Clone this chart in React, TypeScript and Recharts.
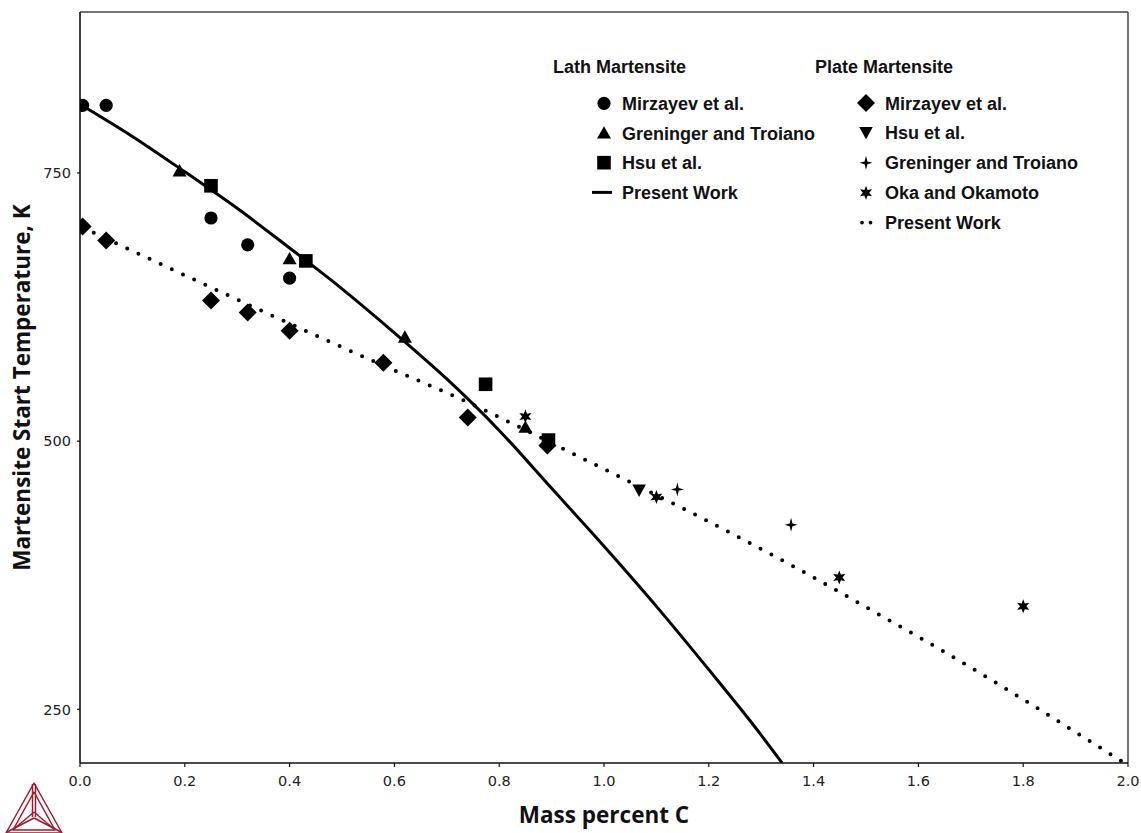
import React from 'react';
import { ComposedChart, Line, Scatter, XAxis, YAxis, ReferenceLine } from 'recharts';

// ---- Lath martensite (mass % C, Ms in K) ----
const lathMirzayevC = [0.005, 0.05, 0.25, 0.32, 0.4];
const lathMirzayevMs = [813, 813, 708, 683, 652];

const lathGreningerC = [0.19, 0.4, 0.62, 0.85];
const lathGreningerMs = [752, 670, 597, 513];

const lathHsuC = [0.25, 0.431, 0.774, 0.894];
const lathHsuMs = [738, 668, 553, 501];

const lathModelC = [0, 0.1, 0.2, 0.3, 0.4, 0.5, 0.6, 0.7, 0.8, 0.9, 1.0, 1.1, 1.2, 1.3, 1.34];
const lathModelMs = [814, 784, 751, 717, 680, 642, 601, 558, 510, 456, 402, 346, 287, 226, 200];

// ---- Plate martensite ----
const plateMirzayevC = [0.005, 0.05, 0.25, 0.32, 0.4, 0.579, 0.74, 0.892];
const plateMirzayevMs = [700, 687, 631, 620, 603, 573, 522, 496];

const plateHsuC = [1.067];
const plateHsuMs = [454];

const plateGreningerC = [1.14, 1.357];
const plateGreningerMs = [455, 422];

const okaC = [0.85, 1.1, 1.449, 1.8];
const okaMs = [523, 448, 373, 346];

const plateModelC = [0.005, 0.15, 0.3, 0.6, 0.7, 1.0, 1.18, 1.37, 1.53, 1.62, 1.99];
const plateModelMs = [699, 666, 632, 566, 545, 474, 430, 381, 337, 312, 201];

// ---- Axes ----
const xTicks = [0, 0.2, 0.4, 0.6, 0.8, 1.0, 1.2, 1.4, 1.6, 1.8, 2.0];
const yTicks = [250, 500, 750];
const xDomain = [0, 2];
const yDomain = [200, 900];

const toPoints = (c: number[], ms: number[]) => c.map((v, i) => ({ x: v, t: ms[i] }));

const INK = '#000';

// ---- marker glyphs ----
const CircleMark = ({ cx, cy }: any) => <circle cx={cx} cy={cy} r={6.6} fill={INK} />;
const TriUpMark = ({ cx, cy }: any) => (
  <polygon points={`${cx},${cy - 6.8} ${cx + 7},${cy + 5.6} ${cx - 7},${cy + 5.6}`} fill={INK} />
);
const SquareMark = ({ cx, cy }: any) => <rect x={cx - 6.8} y={cy - 6.8} width={13.6} height={13.6} fill={INK} />;
const DiamondMark = ({ cx, cy }: any) => (
  <polygon points={`${cx},${cy - 9} ${cx + 9},${cy} ${cx},${cy + 9} ${cx - 9},${cy}`} fill={INK} />
);
const TriDownMark = ({ cx, cy }: any) => (
  <polygon points={`${cx - 6.8},${cy - 6} ${cx + 6.8},${cy - 6} ${cx},${cy + 6.4}`} fill={INK} />
);
const Star4Mark = ({ cx, cy }: any) => (
  <path
    d={`M${cx},${cy - 7} L${cx + 1.4},${cy - 1.4} L${cx + 6.5},${cy} L${cx + 1.4},${cy + 1.4} L${cx},${cy + 7} L${cx - 1.4},${cy + 1.4} L${cx - 6.5},${cy} L${cx - 1.4},${cy - 1.4} Z`}
    fill={INK}
  />
);
const Star6Mark = ({ cx, cy }: any) => {
  const pts: string[] = [];
  for (let k = 0; k < 12; k++) {
    const a = -Math.PI / 2 + (k * Math.PI) / 6;
    const r = k % 2 === 0 ? 7 : 3.2;
    pts.push(`${cx + r * Math.cos(a)},${cy + r * Math.sin(a)}`);
  }
  return <polygon points={pts.join(' ')} fill={INK} />;
};

const legendFont = { fontFamily: '"Liberation Sans", Arial, sans-serif', fontSize: 18, fontWeight: 700, fill: '#111' };
const titleFont = { fontFamily: '"Open Sans", sans-serif', fontSize: 22.5, fontWeight: 700, fill: '#111' };

const lathLegend = [
  { label: 'Mirzayev et al.', Mark: CircleMark },
  { label: 'Greninger and Troiano', Mark: TriUpMark },
  { label: 'Hsu et al.', Mark: SquareMark },
  { label: 'Present Work', Mark: null },
];
const plateLegend = [
  { label: 'Mirzayev et al.', Mark: DiamondMark },
  { label: 'Hsu et al.', Mark: TriDownMark },
  { label: 'Greninger and Troiano', Mark: Star4Mark },
  { label: 'Oka and Okamoto', Mark: Star6Mark },
  { label: 'Present Work', Mark: null },
];

const LegendBlock = () => (
  <svg width={1141} height={250} style={{ position: 'absolute', left: 0, top: 0 }}>
    <text x={553} y={73} {...legendFont}>Lath Martensite</text>
    {lathLegend.map((it, i) => {
      const base = 109.8 + i * 29.7;
      const my = base - 6.5;
      return (
        <g key={'l' + i}>
          {it.Mark ? <it.Mark cx={604} cy={my} /> : <line x1={592} x2={612} y1={my} y2={my} stroke={INK} strokeWidth={3} />}
          <text x={622} y={base} {...legendFont}>{it.label}</text>
        </g>
      );
    })}
    <text x={815} y={73} {...legendFont}>Plate Martensite</text>
    {plateLegend.map((it, i) => {
      const base = 109.5 + i * 29.9;
      const my = base - 6.5;
      return (
        <g key={'p' + i}>
          {it.Mark ? (
            <it.Mark cx={866} cy={my} />
          ) : (
            <line x1={862} x2={871} y1={my} y2={my} stroke={INK} strokeWidth={3.8} strokeDasharray="0 8.5" strokeLinecap="round" />
          )}
          <text x={885} y={base} {...legendFont}>{it.label}</text>
        </g>
      );
    })}
  </svg>
);

const Logo = () => {
  const c = '#a3182f';
  return (
    <svg width={80} height={60} style={{ position: 'absolute', left: 0, top: 776 }}>
      <g fill="none" stroke={c} strokeWidth={1.5} strokeLinejoin="round">
        <polygon points="34,7 6,57 62,57" />
        <polygon points="34,16 13,54 55,54" />
        <line x1={32.5} y1={8} x2={32.5} y2={41} />
        <line x1={35.5} y1={8} x2={35.5} y2={41} />
        <line x1={34} y1={42} x2={7} y2={56} />
        <line x1={34} y1={42} x2={61} y2={56} />
        <line x1={34} y1={36} x2={14} y2={53} />
        <line x1={34} y1={36} x2={54} y2={53} />
      </g>
    </svg>
  );
};

const XTitle = () => (
  <text x={604} y={822.7} textAnchor="middle" {...titleFont}>Mass percent C</text>
);
const YTitle = () => (
  <text x={30} y={387.5} textAnchor="middle" transform="rotate(-90 30 387.5)" {...titleFont}>
    Martensite Start Temperature, K
  </text>
);

export default function App() {
  const tickStyle = { fontFamily: '"DejaVu Sans", Verdana, sans-serif', fontSize: 14.5, fill: '#222' };
  return (
    <div style={{ position: 'fixed', left: 0, top: 0, width: 1141, height: 833, background: '#fff' }}>
      <ComposedChart width={1141} height={833} margin={{ top: 12, right: 13, left: 0, bottom: 0 }}>
        <XAxis
          type="number"
          dataKey="x"
          domain={xDomain}
          ticks={xTicks}
          tickFormatter={(v: number) => v.toFixed(1)}
          height={70}
          tickSize={4}
          tickMargin={9}
          axisLine={{ stroke: '#111', strokeWidth: 1.6 }}
          tickLine={{ stroke: '#111', strokeWidth: 1.2 }}
          tick={tickStyle}
          allowDataOverflow
        />
        <YAxis
          type="number"
          dataKey="t"
          domain={yDomain}
          ticks={yTicks}
          width={80}
          tickSize={3}
          tickMargin={6}
          axisLine={{ stroke: '#111', strokeWidth: 1.6 }}
          tickLine={{ stroke: '#111', strokeWidth: 1.2 }}
          tick={tickStyle}
          allowDataOverflow
        />
        <ReferenceLine y={900} stroke="#444" strokeWidth={1.5} />
        <ReferenceLine x={2} stroke="#444" strokeWidth={1.5} />

        <Line
          data={toPoints(plateModelC, plateModelMs)}
          dataKey="t"
          type="monotone"
          stroke={INK}
          strokeWidth={4}
          strokeDasharray="0 12.3"
          strokeLinecap="round"
          dot={false}
          activeDot={false}
          isAnimationActive={false}
        />
        <Line
          data={toPoints(lathModelC, lathModelMs)}
          dataKey="t"
          type="monotone"
          stroke={INK}
          strokeWidth={3}
          dot={false}
          activeDot={false}
          isAnimationActive={false}
        />

        <Scatter data={toPoints(lathMirzayevC, lathMirzayevMs)} shape={(p: any) => <CircleMark {...p} />} isAnimationActive={false} />
        <Scatter data={toPoints(lathGreningerC, lathGreningerMs)} shape={(p: any) => <TriUpMark {...p} />} isAnimationActive={false} />
        <Scatter data={toPoints(lathHsuC, lathHsuMs)} shape={(p: any) => <SquareMark {...p} />} isAnimationActive={false} />
        <Scatter data={toPoints(plateMirzayevC, plateMirzayevMs)} shape={(p: any) => <DiamondMark {...p} />} isAnimationActive={false} />
        <Scatter data={toPoints(plateHsuC, plateHsuMs)} shape={(p: any) => <TriDownMark {...p} />} isAnimationActive={false} />
        <Scatter data={toPoints(plateGreningerC, plateGreningerMs)} shape={(p: any) => <Star4Mark {...p} />} isAnimationActive={false} />
        <Scatter data={toPoints(okaC, okaMs)} shape={(p: any) => <Star6Mark {...p} />} isAnimationActive={false} />
      </ComposedChart>
      <svg width={1141} height={833} style={{ position: 'absolute', left: 0, top: 0, pointerEvents: 'none' }}>
        <XTitle />
        <YTitle />
      </svg>
      <LegendBlock />
      <Logo />
    </div>
  );
}
